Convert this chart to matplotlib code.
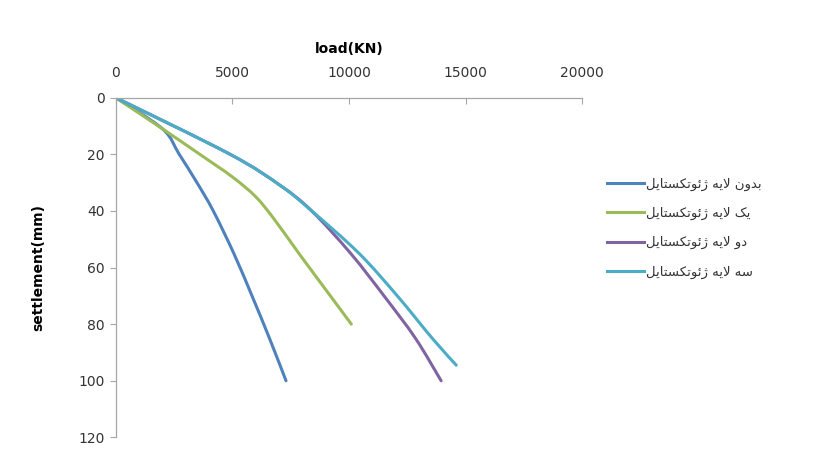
import matplotlib
matplotlib.use("Agg")
import matplotlib.pyplot as plt
from matplotlib.path import Path
from matplotlib.patches import PathPatch
from matplotlib.lines import Line2D

# load (KN) vs settlement (mm)
load_none = [0, 2000, 2720, 3480, 4180, 5060, 5840, 6590, 7300]
settle_none = [0, 11, 20, 30, 40, 55, 70, 85, 100]

load_one = [0, 2000, 3600, 5000, 6000, 6800, 7850, 9200, 10100]
settle_one = [0, 11, 20, 28, 35, 43, 55, 70, 80]

load_two = [0, 4900, 7050, 8400, 10070, 11500, 12850, 13950]
settle_two = [0, 20, 31, 40, 55, 70, 85, 100]

load_three = [0, 4900, 7050, 8400, 10430, 12070, 13570, 14600]
settle_three = [0, 20, 31, 40, 55, 70, 85, 94.5]

labels = ["بدون لایه ژئوتکستایل", "یک لایه ژئوتکستایل",
          "دو لایه ژئوتکستایل", "سه لایه ژئوتکستایل"]
colors = ["#4F81BD", "#9BBB59", "#8064A2", "#4BACC6"]

# matplotlib has no Arabic shaping: pick presentation forms by hand
FORMS = {
    'ا': ('\uFE8D', '\uFE8E', None, None),
    'ب': ('\uFE8F', '\uFE90', '\uFE91', '\uFE92'),
    'ت': ('\uFE95', '\uFE96', '\uFE97', '\uFE98'),
    'د': ('\uFEA9', '\uFEAA', None, None),
    'ژ': ('\uFB8A', '\uFB8B', None, None),
    'س': ('\uFEB1', '\uFEB2', '\uFEB3', '\uFEB4'),
    'ک': ('\uFB8E', '\uFB8F', '\uFB90', '\uFB91'),
    'ل': ('\uFEDD', '\uFEDE', '\uFEDF', '\uFEE0'),
    'ن': ('\uFEE5', '\uFEE6', '\uFEE7', '\uFEE8'),
    'ه': ('\uFEE9', '\uFEEA', '\uFEEB', '\uFEEC'),
    'و': ('\uFEED', '\uFEEE', None, None),
    'ی': ('\uFBFC', '\uFBFD', '\uFBFE', '\uFBFF'),
    'ئ': ('\uFE89', '\uFE8A', '\uFE8B', '\uFE8C'),
}


def shape(text):
    out = []
    i = 0
    while i < len(text):
        c = text[i]
        if c not in FORMS:
            out.append(c)
            i += 1
            continue
        prev = text[i - 1] if i > 0 else None
        joins_prev = prev in FORMS and FORMS[prev][2] is not None
        if c == 'ل' and i + 1 < len(text) and text[i + 1] == 'ا':
            out.append('\uFEFC' if joins_prev else '\uFEFB')
            i += 2
            continue
        nxt = text[i + 1] if i + 1 < len(text) else None
        joins_next = FORMS[c][2] is not None and nxt in FORMS
        iso, fin, ini, med = FORMS[c]
        if joins_prev and joins_next:
            out.append(med)
        elif joins_prev:
            out.append(fin)
        elif joins_next:
            out.append(ini)
        else:
            out.append(iso)
        i += 1
    return ''.join(reversed(out))


def smooth_path(x, y):
    # Excel-like smoothed line: cubic Bezier segments through every point
    pts = list(zip(x, y))
    verts = [pts[0]]
    codes = [Path.MOVETO]
    n = len(pts)
    for i in range(n - 1):
        p0 = pts[max(i - 1, 0)]
        p1 = pts[i]
        p2 = pts[i + 1]
        p3 = pts[min(i + 2, n - 1)]
        c1 = (p1[0] + (p2[0] - p0[0]) / 6, p1[1] + (p2[1] - p0[1]) / 6)
        c2 = (p2[0] - (p3[0] - p1[0]) / 6, p2[1] - (p3[1] - p1[1]) / 6)
        verts += [c1, c2, p2]
        codes += [Path.CURVE4] * 3
    return Path(verts, codes)


fig = plt.figure(figsize=(8.27, 4.5), dpi=100)
ax = fig.add_axes([0.140, 0.028, 0.564, 0.755])

series = [(load_none, settle_none), (load_one, settle_one),
          (load_two, settle_two), (load_three, settle_three)]
handles = []
for (x, y), lab, col in zip(series, labels, colors):
    ax.add_patch(PathPatch(smooth_path(x, y), facecolor="none", edgecolor=col,
                           lw=2.2, capstyle="round", joinstyle="round"))
    handles.append(Line2D([], [], color=col, lw=2.2, label=shape(lab)))

ax.set_xlim(0, 20000)
ax.set_ylim(120, 0)
ax.set_xticks([0, 5000, 10000, 15000, 20000])
ax.set_yticks([0, 20, 40, 60, 80, 100, 120])
ax.xaxis.tick_top()
ax.xaxis.set_label_position("top")

for side in ["right", "bottom"]:
    ax.spines[side].set_visible(False)
for side in ["left", "top"]:
    ax.spines[side].set_color("#A6A6A6")
    ax.spines[side].set_linewidth(0.9)

ax.tick_params(axis="x", direction="in", length=4, color="#A6A6A6",
               labelsize=10, labelcolor="#333333", pad=13)
ax.tick_params(axis="y", direction="out", length=4, color="#A6A6A6",
               labelsize=10, labelcolor="#333333", pad=4)

ax.set_xlabel("load(KN)", fontsize=10, fontweight="bold", labelpad=9)
ax.set_ylabel("settlement(mm)", fontsize=10, fontweight="bold", labelpad=24)

leg = fig.legend(handles=handles, loc="upper left", bbox_to_anchor=(0.72, 0.632),
                 frameon=False, handlelength=2.8, handletextpad=0.15,
                 labelspacing=1.23, prop={"family": ["DejaVu Sans"], "size": 9.5})
for t in leg.get_texts():
    t.set_color("#333333")

fig.savefig("out.png", dpi=100, facecolor="white")
